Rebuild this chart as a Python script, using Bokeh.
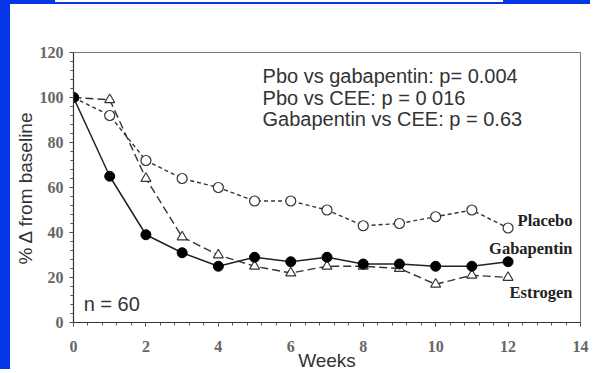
from bokeh.plotting import figure
from bokeh.models import Range1d, Label, FixedTicker, InlineStyleSheet
from bokeh.embed import file_html
from bokeh.resources import INLINE

weeks = [0, 1, 2, 3, 4, 5, 6, 7, 8, 9, 10, 11, 12]
placebo = [100, 92, 72, 64, 60, 54, 54, 50, 43, 44, 47, 50, 42]
gabapentin = [100, 65, 39, 31, 25, 29, 27, 29, 26, 26, 25, 25, 27]
estrogen = [100, 99, 64, 38, 30, 25, 22, 25, 25, 24, 17, 21, 20]

x_ticks = [0, 2, 4, 6, 8, 10, 12, 14]
y_ticks = [0, 20, 40, 60, 80, 100, 120]
x_minor = [round(i * 0.4, 1) for i in range(36)]
y_minor = [i * 4 for i in range(31)]

series_labels = ["Placebo", "Gabapentin", "Estrogen"]
series_label_y = [45.5, 33, 13.5]
stats_lines = ["Pbo vs gabapentin: p= 0.004", "Pbo vs CEE: p = 0 016", "Gabapentin vs CEE: p = 0.63"]
stats_y = [109.7, 99.7, 90.3]

SANS = "Liberation Sans"
SERIF = "Liberation Serif"
BLUE = "#0536e6"

css = """
:host {
  border-left: 10px solid %s;
  border-top: 4px solid %s;
  position: relative;
}
:host::before {
  content: "";
  position: absolute;
  left: 45px;
  top: -4px;
  width: 448px;
  height: 1.5px;
  background: white;
  z-index: 10;
}
""" % (BLUE, BLUE)

p = figure(width=590, height=369, output_backend="svg", toolbar_location=None,
           x_range=Range1d(0, 14), y_range=Range1d(0, 120),
           min_border_left=63, min_border_right=20, min_border_top=48, min_border_bottom=50,
           stylesheets=[InlineStyleSheet(css=css)])
p.background_fill_color = "white"
p.border_fill_color = "white"
p.outline_line_color = "#777777"
p.outline_line_width = 1
p.xgrid.visible = False
p.ygrid.visible = False

for ax in (p.xaxis[0], p.yaxis[0]):
    ax.axis_line_color = "#333333"
    ax.axis_line_width = 1.2
    ax.major_tick_line_color = "#333333"
    ax.minor_tick_line_color = "#555555"
    ax.major_tick_out = 4
    ax.major_tick_in = 0
    ax.minor_tick_out = 3
    ax.minor_tick_in = 0
    ax.major_label_text_font = SERIF
    ax.major_label_text_font_size = "16px"
    ax.major_label_text_font_style = "bold"
    ax.major_label_text_color = "#666666"
    ax.axis_label_text_font = SANS
    ax.axis_label_text_font_size = "19px"
    ax.axis_label_text_font_style = "normal"
    ax.axis_label_text_color = "#333333"

p.xaxis.ticker = FixedTicker(ticks=x_ticks, minor_ticks=x_minor)
p.yaxis.ticker = FixedTicker(ticks=y_ticks, minor_ticks=y_minor)
p.xaxis.axis_label = "Weeks"
p.yaxis.axis_label = "% \u0394 from baseline"
p.xaxis.major_label_standoff = 14
p.xaxis.axis_label_standoff = -5
p.yaxis.major_label_standoff = 6
p.yaxis.axis_label_standoff = 1

# Placebo
p.line(weeks, placebo, line_color="#333333", line_width=1.4, line_dash="4 3")
p.scatter(weeks, placebo, marker="circle", size=10, fill_color="white", line_color="#333333", line_width=1.2)
# Estrogen
p.line(weeks, estrogen, line_color="#333333", line_width=1.4, line_dash="8 4")
p.scatter(weeks, estrogen, marker="triangle", size=10, fill_color="white", line_color="#333333", line_width=1.1)
# Gabapentin
p.line(weeks, gabapentin, line_color="#222222", line_width=1.5)
p.scatter(weeks, gabapentin, marker="circle", size=10, fill_color="black", line_color="black")

for t, yy in zip(series_labels, series_label_y):
    p.add_layout(Label(x=13.78, y=yy, text=t, text_align="right", text_baseline="middle",
                       text_font=SERIF, text_font_style="bold", text_font_size="16.5px",
                       text_color="#222222"))

for t, yy in zip(stats_lines, stats_y):
    p.add_layout(Label(x=5.22, y=yy, text=t, text_align="left", text_baseline="middle",
                       text_font=SANS, text_font_size="20px", text_color="#333333"))

p.add_layout(Label(x=0.28, y=8.4, text="n = 60", text_align="left", text_baseline="middle",
                   text_font=SANS, text_font_size="20px", text_color="#333333"))

open("out.html", "w").write(file_html(p, INLINE))
